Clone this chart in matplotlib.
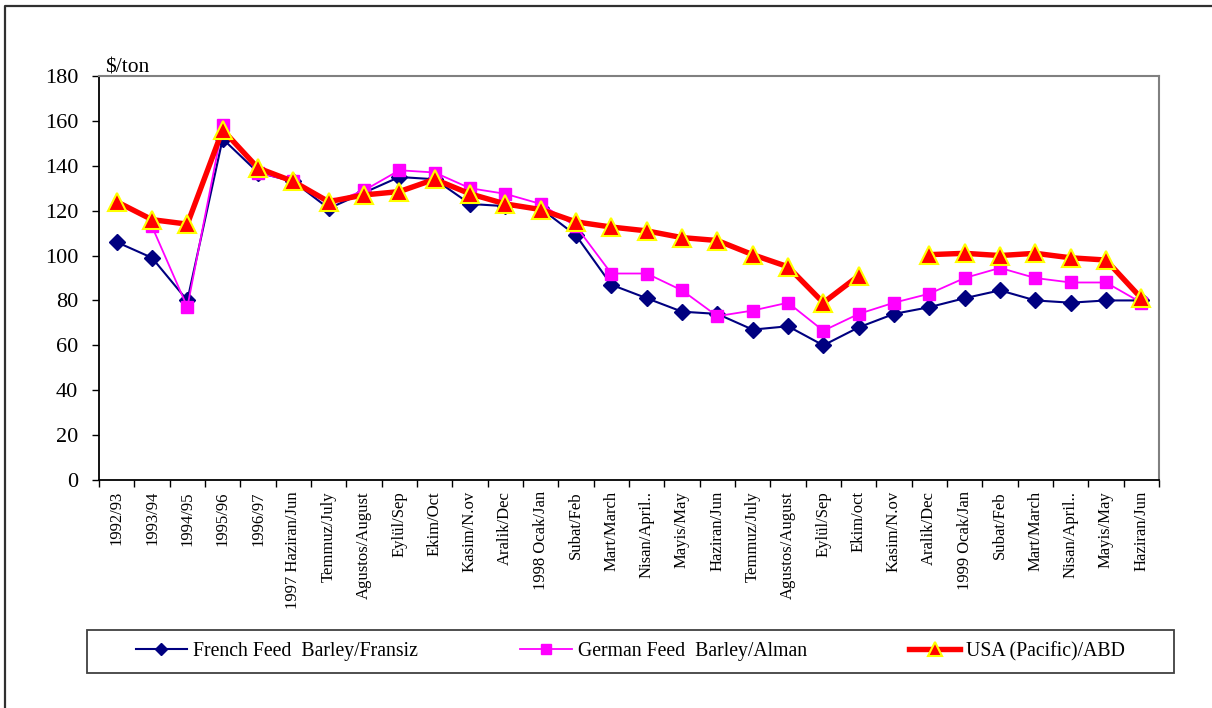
import numpy as np
import matplotlib
matplotlib.use("Agg")
import matplotlib.pyplot as plt
from matplotlib.lines import Line2D
from matplotlib.patches import Rectangle

plt.rcParams['font.family'] = ['Liberation Serif', 'DejaVu Serif']

categories = ["1992/93", "1993/94", "1994/95", "1995/96", "1996/97",
              "1997 Haziran/Jun", "Temmuz/July", "Agustos/August", "Eylül/Sep",
              "Ekim/Oct", "Kasim/N.ov", "Aralik/Dec", "1998 Ocak/Jan", "Subat/Feb",
              "Mart/March", "Nisan/April..", "Mayis/May", "Haziran/Jun",
              "Temmuz/July", "Agustos/August", "Eylül/Sep", "Ekim/oct",
              "Kasim/N.ov", "Aralik/Dec", "1999 Ocak/Jan", "Subat/Feb",
              "Mart/March", "Nisan/April..", "Mayis/May", "Haziran/Jun"]

french = [106, 99, 80, 152, 137, 133, 121, 128, 135, 134, 123, 122, 121, 109,
          87, 81, 75, 74, 67, 68.5, 60, 68, 74, 77, 81, 84.5, 80, 79, 80, 80]
german = [np.nan, 113, 77, 158, 137, 133, 123, 129, 138, 137, 130, 127.5, 123, 113,
          92, 92, 84.5, 73, 75.5, 79, 66.5, 74, 79, 83, 90, 94.5, 90, 88, 88, 79]
usa = [124, 116, 114, 156, 139, 133, 124, 127, 128.5, 134, 127.5, 123, 120.5, 115,
       112.7, 111, 108, 106.7, 100.4, 95, 79, 91, np.nan, 100.4, 101, 100, 101, 99, 98, 81]

series_names = ["French Feed  Barley/Fransiz", "German Feed  Barley/Alman", "USA (Pacific)/ABD"]

W, H = 1212, 708
fig = plt.figure(figsize=(W / 100, H / 100), dpi=100)
ax = fig.add_axes([99 / W, 1 - 480 / H, (1159 - 99) / W, (480 - 76) / H])

x = np.arange(len(categories))
l1, = ax.plot(x, french, color='#000080', lw=1.5, marker='D', ms=8.3,
              mfc='#000080', mec='#000080', zorder=3, clip_on=False)
l2, = ax.plot(x, german, color='#FF00FF', lw=1.3, marker='s', ms=9,
              mfc='#FF00FF', mec='#FF00FF', zorder=4, clip_on=False)
l3, = ax.plot(x, usa, color='#FF0000', lw=3.9, marker='^', ms=13.5,
              mfc='#FF0000', mec='#FFFF00', mew=1.5, zorder=5, clip_on=False)

ax.set_xlim(-0.5, len(categories) - 0.5)
ax.set_ylim(0, 180)
ax.set_yticks(np.arange(0, 181, 20))
ax.tick_params(axis='y', direction='out', length=5, width=1, labelsize=16, pad=10)

ax.set_xticks(np.arange(-0.5, len(categories), 1))
ax.set_xticklabels([])
ax.tick_params(axis='x', which='major', direction='out', length=5, width=1)
ax.set_xticks(x, minor=True)
ax.set_xticklabels(categories, minor=True, rotation=90, fontsize=12)
ax.tick_params(axis='x', which='minor', length=0, pad=8)

for s in ['left', 'bottom']:
    ax.spines[s].set_color('black')
    ax.spines[s].set_linewidth(1.3)
for s in ['top', 'right']:
    ax.spines[s].set_color('#808080')
    ax.spines[s].set_linewidth(1.5)

fig.text(105 / W, 1 - 72 / H, '\\$/ton', fontsize=15.5, ha='left', va='baseline')

# legend frame
fig.patches.append(Rectangle((87 / W, 1 - 673 / H), (1174 - 87) / W, (673 - 630) / H,
                             transform=fig.transFigure, fill=False,
                             edgecolor='#404040', lw=1.3))
fig.legend([l1, l2, l3], series_names, loc='center',
           bbox_to_anchor=(630.5 / W, 1 - 651.5 / H), bbox_transform=fig.transFigure,
           ncol=3, frameon=False, fontsize=14.2, handlelength=2.6,
           handletextpad=0.3, columnspacing=5.2, markerscale=0.75)

# figure border
fig.lines.append(Line2D([5 / W, 5 / W, 1.0], [0.0, 1 - 6 / H, 1 - 6 / H],
                        transform=fig.transFigure, color='#303030', lw=1.6))

fig.savefig('out.png', dpi=100)
